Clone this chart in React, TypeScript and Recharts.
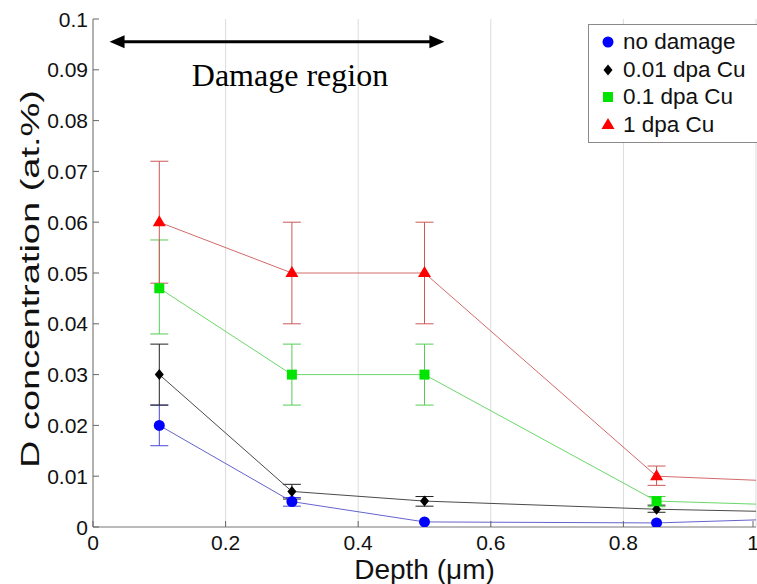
import React from "react";
import {
  LineChart, Line, XAxis, YAxis, CartesianGrid, ErrorBar, ReferenceLine,
} from "recharts";

// depth (um) of each measurement; last point sits on the right edge of the frame
const depth = [0.1, 0.3, 0.5, 0.85, 1.0];

const noDamage = [0.02, 0.005, 0.001, 0.0008, 0.0014];
const noDamageLow = [0.016, 0.0041, null, null, null];
const noDamageHigh = [0.024, 0.0058, null, null, null];

const dpa001 = [0.03, 0.007, 0.0051, 0.0035, 0.0031];
const dpa001Low = [0.024, 0.0055, 0.0041, 0.0029, null];
const dpa001High = [0.036, 0.0084, 0.006, 0.0043, null];

const dpa01 = [0.047, 0.03, 0.03, 0.0051, 0.0045];
const dpa01Low = [0.038, 0.024, 0.024, 0.004, null];
const dpa01High = [0.0565, 0.036, 0.036, 0.006, null];

const dpa1 = [0.06, 0.05, 0.05, 0.01, 0.0092];
const dpa1Low = [0.048, 0.04, 0.04, 0.0082, null];
const dpa1High = [0.072, 0.06, 0.06, 0.012, null];

const xTicks = [0, 0.2, 0.4, 0.6, 0.8, 1];
const yTicks = [0, 0.01, 0.02, 0.03, 0.04, 0.05, 0.06, 0.07, 0.08, 0.09, 0.1];

const damageFrom = 0.025;
const damageTo = 0.53;
const damageLevel = 0.0955;

type Kind = "circle" | "diamond" | "square" | "triangle";

const series: {
  key: string; name: string; kind: Kind; marker: string; line: string; err: string;
  values: number[]; low: (number | null)[]; high: (number | null)[];
}[] = [
  { key: "nd", name: "no damage", kind: "circle", marker: "#0000ff", line: "#6464cc", err: "#4848d0", values: noDamage, low: noDamageLow, high: noDamageHigh },
  { key: "d001", name: "0.01 dpa Cu", kind: "diamond", marker: "#000000", line: "#4a4a4a", err: "#222222", values: dpa001, low: dpa001Low, high: dpa001High },
  { key: "d01", name: "0.1 dpa Cu", kind: "square", marker: "#00e400", line: "#6ad86a", err: "#55cc55", values: dpa01, low: dpa01Low, high: dpa01High },
  { key: "d1", name: "1 dpa Cu", kind: "triangle", marker: "#ff0000", line: "#d26a6a", err: "#cc5858", values: dpa1, low: dpa1Low, high: dpa1High },
];

const data = depth.map((x, i) => {
  const row: Record<string, number | number[] | null> = { x };
  for (const s of series) {
    const v = s.values[i];
    const lo = s.low[i];
    const hi = s.high[i];
    row[s.key] = v;
    row[`${s.key}Err`] = lo == null || hi == null ? null : [v - lo, hi - v];
  }
  return row;
});

const FONT = "'Liberation Sans', Arial, sans-serif";

function marker(kind: Kind, cx: number, cy: number, color: string, key?: string | number) {
  if (kind === "circle") return <circle key={key} cx={cx} cy={cy} r={5.5} fill={color} />;
  if (kind === "diamond")
    return <polygon key={key} points={`${cx},${cy - 5.5} ${cx + 4.5},${cy} ${cx},${cy + 5.5} ${cx - 4.5},${cy}`} fill={color} />;
  if (kind === "square") return <rect key={key} x={cx - 5} y={cy - 5} width={10} height={10} fill={color} />;
  return <polygon key={key} points={`${cx},${cy - 7} ${cx + 6.5},${cy + 4} ${cx - 6.5},${cy + 4}`} fill={color} />;
}

const fmt = (v: number) => String(+v.toFixed(2));

const LeftTick = ({ x, y, payload }: any) => (
  <g>
    <line x1={x} x2={x + 6} y1={y} y2={y} stroke="#666" />
    <text x={x - 5} y={y} textAnchor="end" dominantBaseline="central" fontSize={21} fontFamily={FONT} fill="#111">
      {fmt(payload.value)}
    </text>
  </g>
);
const RightTick = ({ x, y }: any) => <line x1={x - 6} x2={x} y1={y} y2={y} stroke="#666" />;
const BottomTick = ({ x, y, payload }: any) => (
  <g>
    <line x1={x} x2={x} y1={y - 6} y2={y} stroke="#666" />
    <text x={x} y={y + 15} textAnchor="middle" dominantBaseline="central" fontSize={21} fontFamily={FONT} fill="#111">
      {fmt(payload.value)}
    </text>
  </g>
);
const TopTick = ({ x, y }: any) => <line x1={x} x2={x} y1={y} y2={y + 6} stroke="#666" />;

// the y title is drawn a bit stretched, as in the source figure
const YTitle = ({ viewBox }: any) => {
  const cx = viewBox.x + 30;
  const cy = viewBox.y + viewBox.height / 2 + 6;
  return (
    <text x={cx} y={cy} transform={`rotate(-90 ${cx} ${cy})`} textAnchor="middle" dominantBaseline="central"
      fontSize={26} fontFamily={FONT} fill="#111" textLength={378} lengthAdjust="spacingAndGlyphs">
      D concentration (at.%)
    </text>
  );
};

const DamageArrow = (props: any) => {
  const { x1, y1, x2 } = props;
  return (
    <g>
      <line x1={x1 + 10} x2={x2 - 10} y1={y1} y2={y1} stroke="#000" strokeWidth={3} />
      <polygon points={`${x1},${y1} ${x1 + 15},${y1 - 6.5} ${x1 + 15},${y1 + 6.5}`} fill="#000" />
      <polygon points={`${x2},${y1} ${x2 - 15},${y1 - 6.5} ${x2 - 15},${y1 + 6.5}`} fill="#000" />
      <text x={(x1 + x2) / 2 + 13} y={y1 + 44} textAnchor="middle" fontSize={32}
        fontFamily="'Liberation Serif', 'Times New Roman', serif" fill="#000">
        Damage region
      </text>
    </g>
  );
};

const LegendBox = () => (
  <div style={{
    position: "absolute", left: 588, top: 24, width: 170, boxSizing: "border-box",
    border: "1px solid #8a8a8a", background: "#fff", padding: "3px 0",
    fontFamily: FONT, fontSize: 22.5, color: "#111",
  }}>
    {series.map((s) => (
      <div key={s.key} style={{ display: "flex", alignItems: "center", height: 27.7 }}>
        <svg width={34} height={20} style={{ display: "block" }}>
          {marker(s.kind, 19, 10, s.marker)}
        </svg>
        <span style={{ lineHeight: "22px" }}>{s.name}</span>
      </div>
    ))}
  </div>
);

export default function App() {
  return (
    <div style={{ position: "absolute", left: 0, top: 0, width: 757, height: 584, background: "#fff", overflow: "hidden" }}>
      <LineChart width={757} height={584} data={data} margin={{ top: 19, right: 1, bottom: 0, left: 0 }}>
        <CartesianGrid horizontal={false} stroke="#dcdcdc" />
        <XAxis dataKey="x" type="number" domain={[0, 1]} ticks={xTicks} height={57}
          tick={<BottomTick />} tickSize={0} tickMargin={0} stroke="#777" allowDataOverflow
          label={{ value: "Depth (\u03bcm)", position: "center", dy: 14, style: { fontSize: 28, fontFamily: FONT, fill: "#111" } }} />
        <XAxis xAxisId="top" orientation="top" dataKey="x" type="number" domain={[0, 1]} ticks={xTicks}
          height={0} tick={<TopTick />} tickSize={0} tickMargin={0} stroke="#777" />
        <YAxis type="number" domain={[0, 0.1]} ticks={yTicks} width={93} tick={<LeftTick />}
          tickSize={0} tickMargin={0} stroke="#777" allowDataOverflow
          label={{ position: "center", content: <YTitle /> }} />
        <YAxis yAxisId="right" orientation="right" type="number" domain={[0, 0.1]} ticks={yTicks}
          width={0} tick={<RightTick />} tickSize={0} tickMargin={0} stroke="#777" />
        <ReferenceLine segment={[{ x: damageFrom, y: damageLevel }, { x: damageTo, y: damageLevel }]} shape={DamageArrow} />
        {series.map((s) => (
          <Line key={s.key} dataKey={s.key} name={s.name} stroke={s.line} strokeWidth={1}
            isAnimationActive={false}
            dot={(p: any) =>
              p.payload.x >= 1 ? <g key={p.index} /> : marker(s.kind, p.cx, p.cy, s.marker, p.index)}
            activeDot={false}>
            <ErrorBar dataKey={`${s.key}Err`} direction="y" width={9} stroke={s.err} strokeWidth={1} isAnimationActive={false} />
          </Line>
        ))}
      </LineChart>
      <LegendBox />
    </div>
  );
}
